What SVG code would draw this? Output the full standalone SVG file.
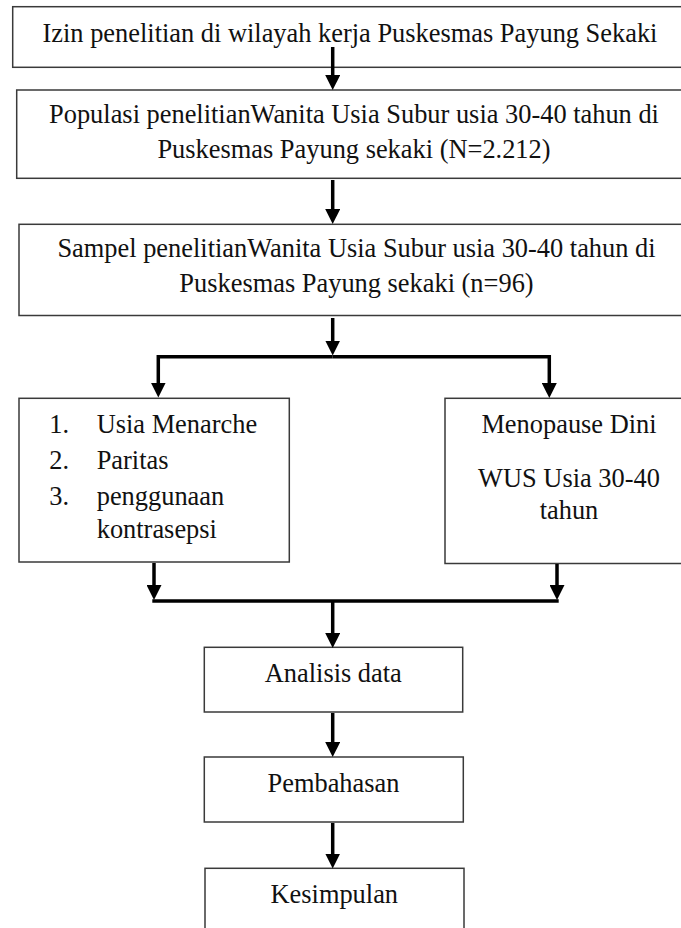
<svg xmlns="http://www.w3.org/2000/svg" width="681" height="928" viewBox="0 0 681 928">
<defs>
<style>
.box{fill:#fff;stroke:#3a3a3a;stroke-width:1.5}
.t{font-family:"Liberation Serif","Times New Roman",serif;font-size:26.4px;fill:#111}
.c{text-anchor:middle}
.con{fill:none;stroke:#000;stroke-width:3.5;stroke-linejoin:miter}
</style>
<marker id="ah" markerUnits="userSpaceOnUse" markerWidth="15" markerHeight="15" viewBox="0 0 15 15" refX="7.5" refY="7.5" orient="auto">
<path d="M0,0 L15,7.5 L0,15 z" fill="#000"/>
</marker>
</defs>
<rect width="681" height="928" fill="#fff"/>

<g id="n1">
<rect class="box" x="12.7" y="6.7" width="677" height="60.6"/>
<text class="t c" x="350" y="42">Izin penelitian di wilayah kerja Puskesmas Payung Sekaki</text>
</g>
<g id="n2">
<rect class="box" x="16.7" y="90" width="676" height="88.3"/>
<text class="t c" x="354" y="123.3">Populasi penelitianWanita Usia Subur usia 30-40 tahun di</text>
<text class="t c" x="354" y="158.3">Puskesmas Payung sekaki (N=2.212)</text>
</g>
<g id="n3">
<rect class="box" x="19" y="224.3" width="676" height="91.2"/>
<text class="t c" x="356.5" y="257.3">Sampel penelitianWanita Usia Subur usia 30-40 tahun di</text>
<text class="t c" x="356.5" y="292.3">Puskesmas Payung sekaki (n=96)</text>
</g>
<g id="n4">
<rect class="box" x="19" y="398.3" width="270.3" height="163.7"/>
<text class="t" x="49.3" y="433.3">1.</text>
<text class="t" x="96.7" y="433.3">Usia Menarche</text>
<text class="t" x="49.3" y="469.3">2.</text>
<text class="t" x="96.7" y="469.3">Paritas</text>
<text class="t" x="49.3" y="505">3.</text>
<text class="t" x="96.7" y="505">penggunaan</text>
<text class="t" x="96.7" y="538.3">kontrasepsi</text>
</g>
<g id="n5">
<rect class="box" x="445" y="398.3" width="250" height="165.2"/>
<text class="t c" x="569" y="433.3">Menopause Dini</text>
<text class="t c" x="569" y="487.3">WUS Usia 30-40</text>
<text class="t c" x="569" y="519.3">tahun</text>
</g>
<g id="n6">
<rect class="box" x="204.3" y="647.3" width="258.4" height="64.7"/>
<text class="t c" x="333.3" y="681.7">Analisis data</text>
</g>
<g id="n7">
<rect class="box" x="204.3" y="757" width="259" height="65"/>
<text class="t c" x="333.5" y="791.7">Pembahasan</text>
</g>
<g id="n8">
<rect class="box" x="205" y="868.3" width="259" height="80"/>
<text class="t c" x="334.3" y="902.7">Kesimpulan</text>
</g>

<g id="connectors">
<path class="con" d="M332.7,47 V82.5" marker-end="url(#ah)"/>
<path class="con" d="M332.7,180 V216.5" marker-end="url(#ah)"/>
<path class="con" d="M332.7,318 V348" marker-end="url(#ah)"/>
<path class="con" d="M332.7,356.7 H158.3 V390" marker-end="url(#ah)"/>
<path class="con" d="M332.7,356.7 H549.3 V390.5" marker-end="url(#ah)"/>
<path class="con" d="M154,563 V592.5" marker-end="url(#ah)"/>
<path class="con" d="M557,564 V592.5" marker-end="url(#ah)"/>
<path class="con" d="M152.3,601 H558.7"/>
<path class="con" d="M332.7,601 V640.5" marker-end="url(#ah)"/>
<path class="con" d="M332.7,713 V749.5" marker-end="url(#ah)"/>
<path class="con" d="M332.7,823 V861" marker-end="url(#ah)"/>
</g>
</svg>
